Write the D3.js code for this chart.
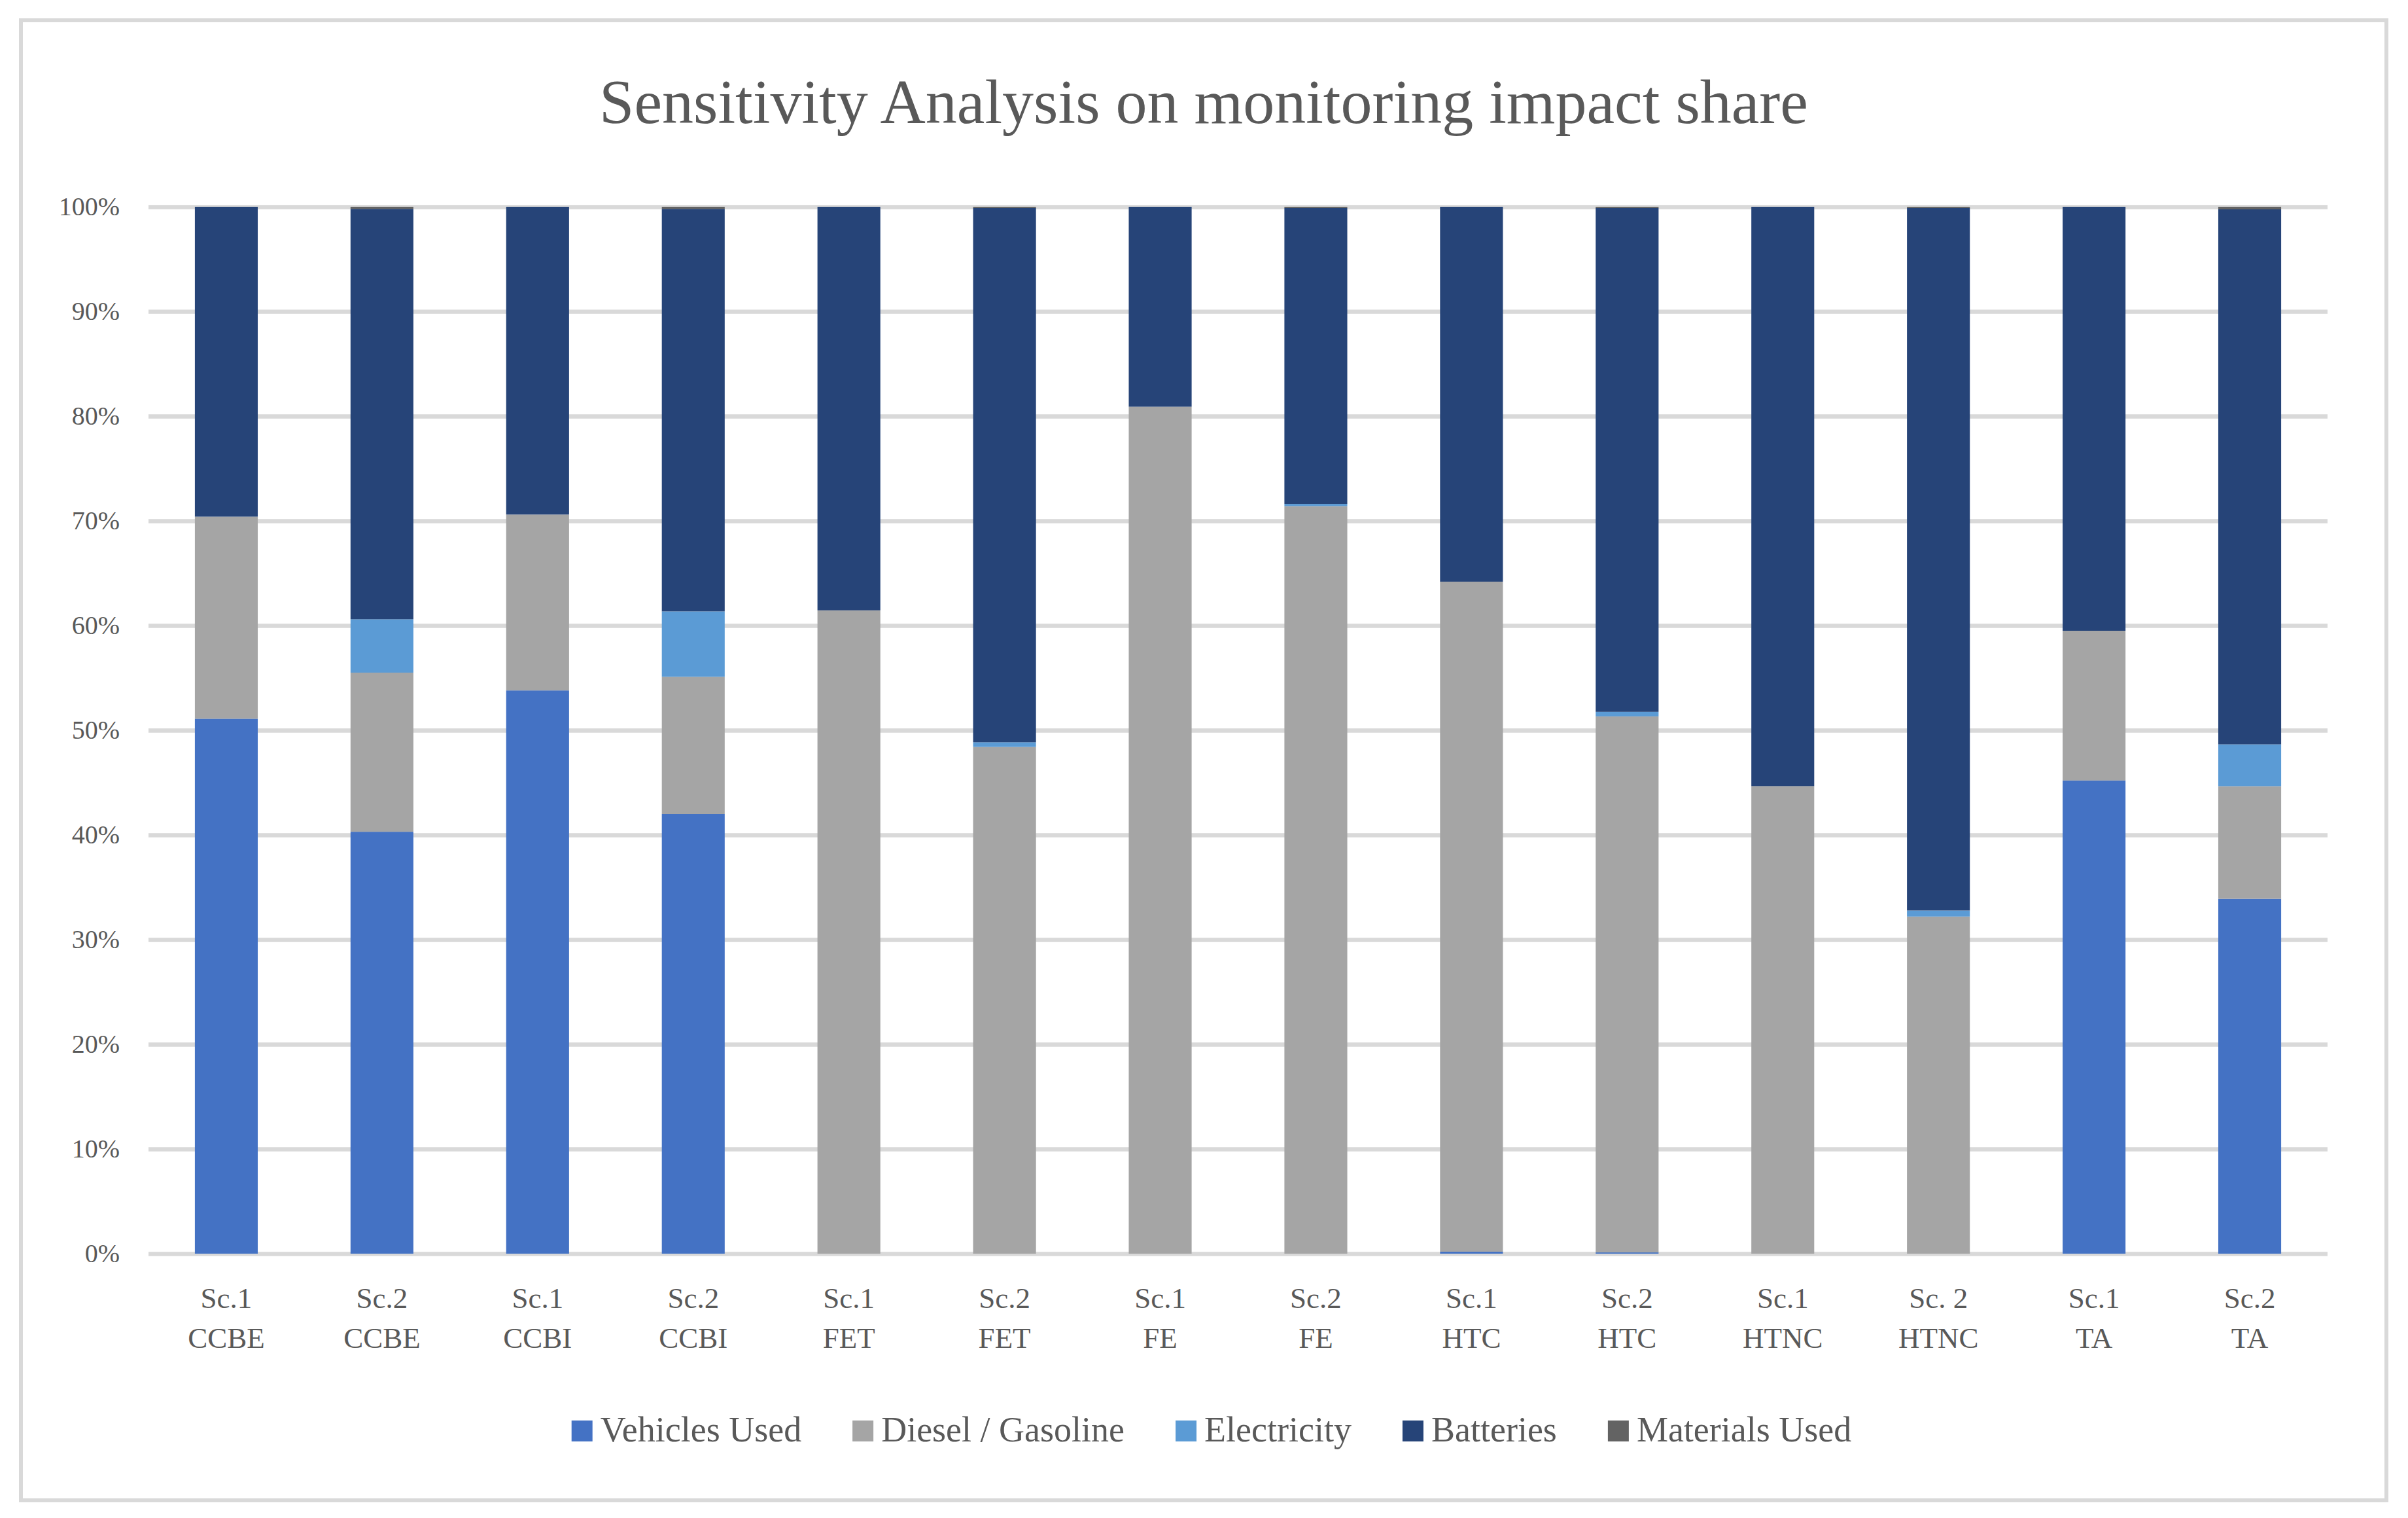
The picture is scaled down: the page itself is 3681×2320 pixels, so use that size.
<!DOCTYPE html>
<html>
<head>
<meta charset="utf-8">
<script src="https://cdn.jsdelivr.net/npm/d3@7"></script>
<style>
  html, body { margin: 0; padding: 0; background: #fff; }
  svg text { font-family: "Liberation Serif", "DejaVu Serif", serif; fill: #595959; }
</style>
</head>
<body>
<svg class="chart"></svg>
<script>
const scenarios = ['Sc.1', 'Sc.2', 'Sc.1', 'Sc.2', 'Sc.1', 'Sc.2', 'Sc.1', 'Sc.2', 'Sc.1', 'Sc.2', 'Sc.1', 'Sc. 2', 'Sc.1', 'Sc.2']
const impacts = ['CCBE', 'CCBE', 'CCBI', 'CCBI', 'FET', 'FET', 'FE', 'FE', 'HTC', 'HTC', 'HTNC', 'HTNC', 'TA', 'TA']

// shares in %
const vehiclesUsed = [51.1, 40.3, 53.8, 42.0, 0, 0, 0, 0, 0.19, 0.12, 0, 0, 45.2, 33.9]
const dieselGasoline = [19.3, 15.2, 16.8, 13.1, 61.45, 48.4, 80.9, 71.4, 64.0, 51.2, 44.66, 32.2, 14.3, 10.75]
const electricity = [0, 5.1, 0, 6.25, 0, 0.45, 0, 0.22, 0, 0.44, 0, 0.58, 0, 4.0]
const batteries = [29.6, 39.2, 29.4, 38.45, 38.55, 51.03, 19.1, 28.26, 35.81, 48.12, 55.34, 67.1, 40.5, 51.1]
const materialsUsed = [0, 0.2, 0, 0.2, 0, 0.12, 0, 0.12, 0, 0.12, 0, 0.12, 0, 0.25]

const seriesNames = ['Vehicles Used', 'Diesel / Gasoline', 'Electricity', 'Batteries', 'Materials Used']
const seriesColors = ['#4472C4', '#A5A5A5', '#5B9BD5', '#264478', '#636363']
const yTicks = [0, 0.1, 0.2, 0.3, 0.4, 0.5, 0.6, 0.7, 0.8, 0.9, 1]

const width = 3681
const height = 2320
const plot = { left: 227, right: 3558, top: 316, bottom: 1916 }

const rows = impacts.map((impact, i) => ({
  key: i,
  'Vehicles Used': vehiclesUsed[i],
  'Diesel / Gasoline': dieselGasoline[i],
  Electricity: electricity[i],
  Batteries: batteries[i],
  'Materials Used': materialsUsed[i],
}))

const stacked = d3.stack()
  .keys(seriesNames)
  .offset(d3.stackOffsetExpand)(rows)

const xScale = d3.scaleBand()
  .domain(rows.map(r => r.key))
  .range([plot.left, plot.right])
  .paddingInner(0.596)
  .paddingOuter(0.298)

const yScale = d3.scaleLinear()
  .domain([0, 1])
  .range([plot.bottom, plot.top])

const color = d3.scaleOrdinal().domain(seriesNames).range(seriesColors)

const chart = d3.select('.chart')
  .attr('width', width)
  .attr('height', height)

chart.append('rect')
  .attr('x', 32).attr('y', 31)
  .attr('width', 3616).attr('height', 2262)
  .attr('fill', '#fff')
  .attr('stroke', '#D9D9D9')
  .attr('stroke-width', 6)

chart.append('text')
  .attr('x', 1840)
  .attr('y', 188)
  .attr('text-anchor', 'middle')
  .style('font-size', '96px')
  .text('Sensitivity Analysis on monitoring impact share')

// gridlines
chart.append('g')
  .attr('class', 'grid')
  .attr('transform', `translate(${plot.left},0)`)
  .call(d3.axisLeft(yScale).tickValues(yTicks).tickSize(-(plot.right - plot.left)).tickFormat(''))
  .call(g => g.select('.domain').remove())
  .call(g => g.selectAll('line').attr('stroke', '#D9D9D9').attr('stroke-width', 6.5))

// y labels
chart.append('g')
  .attr('class', 'axisLeft')
  .attr('transform', 'translate(183,0)')
  .call(d3.axisLeft(yScale).tickValues(yTicks).tickSize(0).tickPadding(0).tickFormat(d3.format('.0%')))
  .call(g => g.select('.domain').remove())
  .call(g => g.selectAll('text')
    .attr('fill', '#595959')
    .style('font-size', '40px')
    .style('font-family', '"Liberation Serif", serif'))

// bars
chart.append('g').attr('class', 'bars')
  .selectAll('g')
  .data(stacked)
  .enter()
  .append('g')
  .attr('fill', s => color(s.key))
  .selectAll('rect')
  .data(s => s)
  .enter()
  .append('rect')
  .attr('x', d => xScale(d.data.key))
  .attr('width', xScale.bandwidth())
  .attr('y', d => yScale(d[1]))
  .attr('height', d => yScale(d[0]) - yScale(d[1]))

// x labels, two lines
const xLabels = chart.append('g').attr('class', 'axisBottom')
  .selectAll('text')
  .data(rows)
  .enter()
  .append('text')
  .attr('text-anchor', 'middle')
  .attr('transform', r => `translate(${xScale(r.key) + xScale.bandwidth() / 2},0)`)
  .style('font-size', '45px')
xLabels.append('tspan').attr('x', 0).attr('y', 1999).text(r => scenarios[r.key])
xLabels.append('tspan').attr('x', 0).attr('y', 2060).text(r => impacts[r.key])

// legend
const legend = chart.append('g').attr('class', 'legend')
const items = legend.selectAll('g')
  .data(seriesNames)
  .enter()
  .append('g')
items.append('rect')
  .attr('width', 32).attr('height', 32)
  .attr('y', 2171)
  .attr('fill', n => color(n))
items.append('text')
  .attr('x', 44)
  .attr('y', 2203)
  .style('font-size', '54px')
  .text(n => n)

let offset = 0
const widths = []
items.each(function () {
  const w = 44 + d3.select(this).select('text').node().getComputedTextLength()
  widths.push(w)
})
const total = d3.sum(widths) + 78 * (widths.length - 1)
const start = 1852 - total / 2
items.attr('transform', (n, i) => {
  const x = start + offset
  offset += widths[i] + 78
  return `translate(${x},0)`
})
</script>
</body>
</html>
